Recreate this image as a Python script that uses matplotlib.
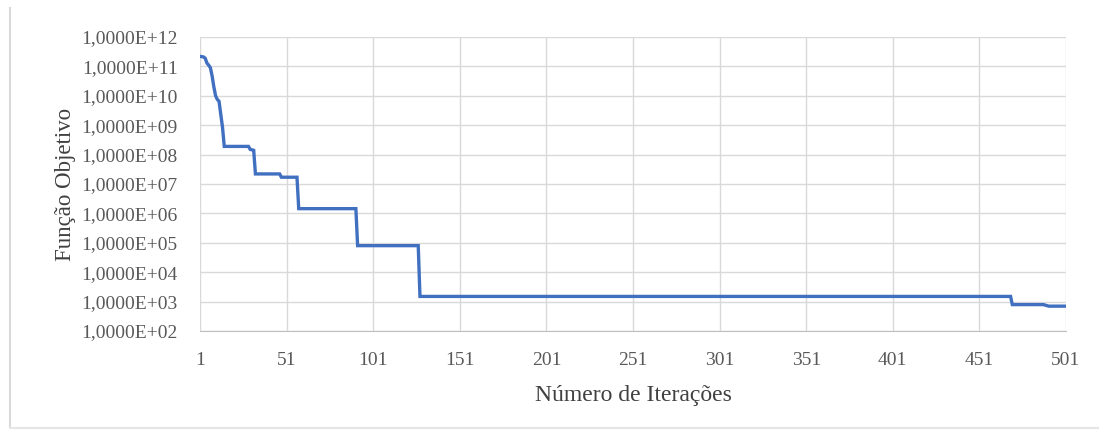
import math
import matplotlib
matplotlib.use('Agg')
import matplotlib.pyplot as plt
from matplotlib.ticker import FixedLocator, FuncFormatter
from matplotlib.lines import Line2D

# iteration where the value changes
iteracoes = [1, 3, 4, 5, 6, 7, 8, 9, 10, 11, 12, 13, 14, 15, 29, 30, 32, 33,
             47, 48, 57, 58, 91, 92, 127, 128, 469, 470, 488, 491, 501]
funcao_obj = [2.2e11, 2.1e11, 1.9e11, 1.3e11, 1.1e11, 9.0e10, 4.7e10, 2.0e10,
              1.0e10, 7.5e9, 6.5e9, 2.3e9, 8.5e8, 1.9e8, 1.9e8, 1.5e8, 1.4e8,
              2.2e7, 2.2e7, 1.7e7, 1.7e7, 1.45e6, 1.45e6, 8.0e4, 8.0e4, 1.5e3,
              1.5e3, 7.9e2, 7.9e2, 7.0e2, 7.0e2]

x_ticks = list(range(1, 502, 50))
y_ticks = [10.0 ** k for k in range(2, 13)]

plt.rcParams['font.family'] = ['Liberation Serif', 'DejaVu Serif']

fig = plt.figure(figsize=(10.99, 4.34), dpi=100)
ax = fig.add_axes([200 / 1099, 1 - 331 / 434, 866 / 1099, 294 / 434])

ax.plot(iteracoes, funcao_obj, color='#4170c0', lw=2.4, solid_joinstyle='miter')

ax.set_yscale('log')
ax.set_ylim(1e2, 1e12)
ax.set_xlim(1, 501)
ax.xaxis.set_major_locator(FixedLocator(x_ticks))
ax.yaxis.set_major_locator(FixedLocator(y_ticks))
ax.yaxis.set_minor_locator(FixedLocator([]))
ax.yaxis.set_major_formatter(FuncFormatter(
    lambda v, p: '1,0000E+%02d' % round(math.log10(v))))

ax.grid(True, color='#d9d9d9', lw=1)
ax.set_axisbelow(True)
for s in ['top', 'right', 'left']:
    ax.spines[s].set_visible(False)
ax.spines['bottom'].set_color('#bfbfbf')
ax.tick_params(length=0, labelsize=14, colors='#595959')
ax.tick_params(axis='x', pad=15)
ax.tick_params(axis='y', pad=16)

ax.set_xlabel('Número de Iterações', fontsize=17, color='#404040', labelpad=12)
ax.set_ylabel('Função Objetivo', fontsize=16.5, color='#404040', labelpad=4)

# faint outer chart border
fig.add_artist(Line2D([10 / 1099, 10 / 1099], [1 - 428 / 434, 1 - 8 / 434],
                      transform=fig.transFigure, color='#d9d9d9', lw=1.5))
fig.add_artist(Line2D([10 / 1099, 1.0], [1 - 428 / 434, 1 - 428 / 434],
                      transform=fig.transFigure, color='#e6e6e6', lw=1.5))

fig.savefig('out.png', dpi=100)
